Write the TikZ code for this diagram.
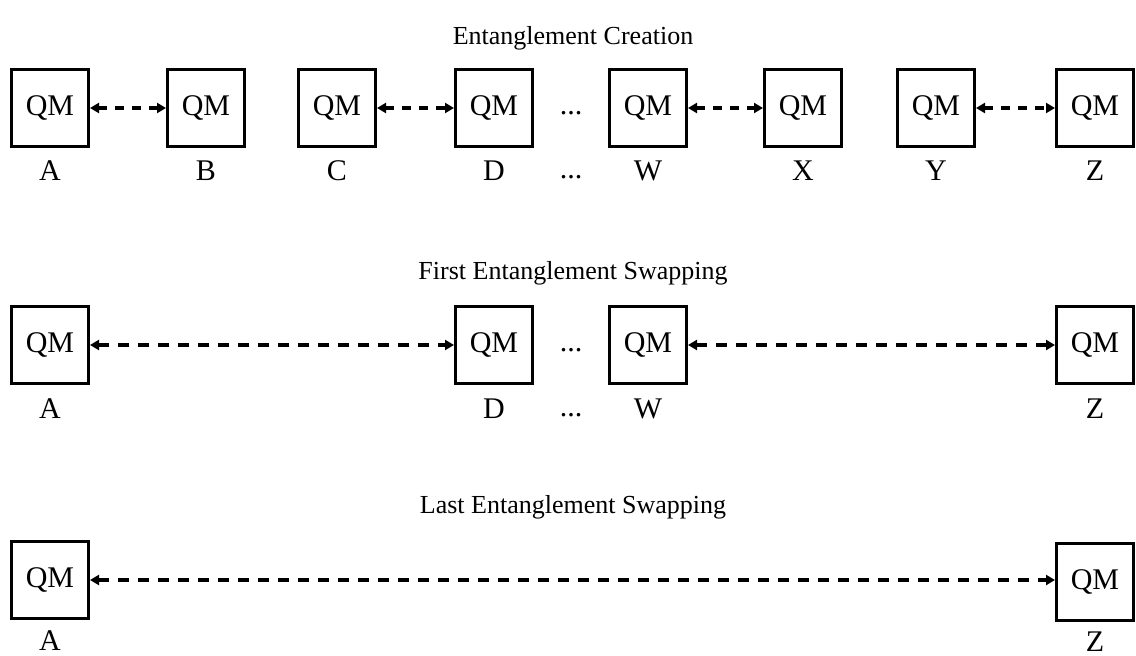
\documentclass[tikz,border=0pt]{standalone}
\usepackage{fontspec}
\setmainfont{Liberation Serif}
\usetikzlibrary{arrows.meta}
\begin{document}
\begin{tikzpicture}[x=1pt,y=-1pt,
  qm/.style={draw,line width=3pt,minimum size=77pt,inner sep=0pt,font=\fontsize{30}{36}\selectfont},
  lbl/.style={anchor=base,font=\fontsize{30}{36}\selectfont,inner sep=0pt},
  ttl/.style={font=\fontsize{26}{31}\selectfont,inner sep=0pt},
  conn/.style={line width=3.2pt,dash pattern=on 9pt off 8pt,{Triangle[length=9pt,width=10pt]}-{Triangle[length=9pt,width=10pt]}},
  longconn/.style={conn,dash pattern=on 11pt off 9pt}]
\useasboundingbox (0,0) rectangle (1136,656);
% Row 1
\node[ttl] (t1) at (573,38) {Entanglement Creation};
\foreach \n/\x in {A/50,B/206,C/337,D/494,W/648,X/803,Y/936,Z/1095}{
  \node[qm] (r1\n) at (\x,108) {QM};
  \node[lbl] (l1\n) at (\x,180) {\n};
}
\node[lbl] (d1a) at (571,114) {...};
\node[lbl] (d1b) at (571,178) {...};
\draw[conn] (r1A) -- (r1B);
\draw[conn] (r1C) -- (r1D);
\draw[conn] (r1W) -- (r1X);
\draw[conn] (r1Y) -- (r1Z);
% Row 2
\node[ttl] (t2) at (573,273) {First Entanglement Swapping};
\foreach \n/\x in {A/50,D/494,W/648,Z/1095}{
  \node[qm] (r2\n) at (\x,345) {QM};
  \node[lbl] (l2\n) at (\x,418) {\n};
}
\node[lbl] (d2a) at (571,351) {...};
\node[lbl] (d2b) at (571,416) {...};
\draw[longconn] (r2A) -- (r2D);
\draw[longconn] (r2W) -- (r2Z);
% Row 3
\node[ttl] (t3) at (573,507) {Last Entanglement Swapping};
\node[qm] (r3A) at (50,580) {QM};
\node[lbl] (l3A) at (50,650) {A};
\node[qm] (r3Z) at (1095,582) {QM};
\node[lbl] (l3Z) at (1095,651) {Z};
\draw[longconn] (r3A.east) -- (r3Z.west |- r3A.east);
\end{tikzpicture}
\end{document}
